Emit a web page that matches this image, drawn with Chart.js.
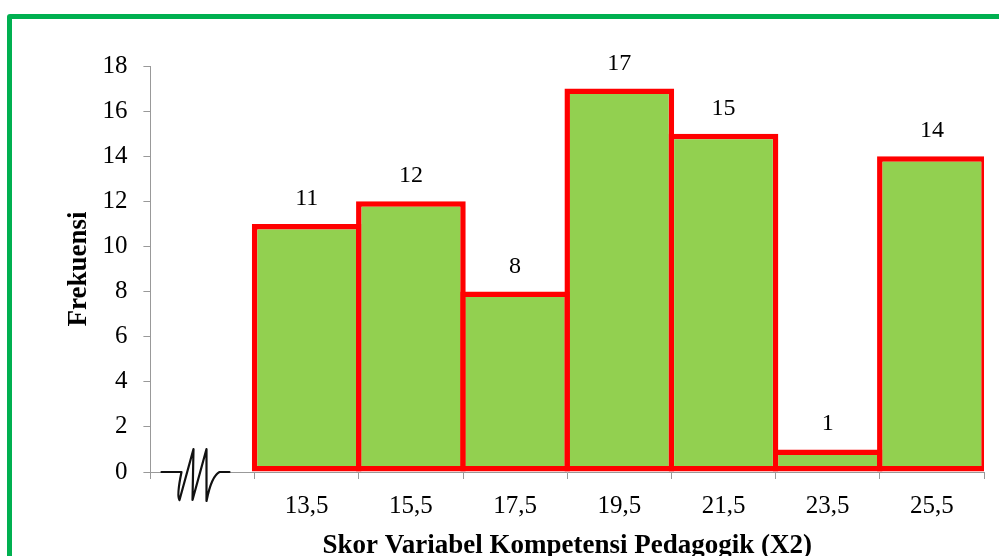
<!DOCTYPE html>
<html>
<head>
<meta charset="utf-8">
<script src="https://cdn.jsdelivr.net/npm/chart.js@4/dist/chart.umd.min.js"></script>
<style>
  html, body { margin: 0; padding: 0; background: #fff; overflow: hidden; }
  #wrap { position: relative; width: 999px; height: 556px; overflow: hidden; }
  #frame { position: absolute; left: 7px; top: 14px; width: 1100px; height: 700px;
           border: 5px solid #00B050; border-radius: 3px; box-sizing: border-box; }
  canvas { position: absolute; left: 0; top: 0; }
</style>
</head>
<body>
<div id="wrap">
  <div id="frame"></div>
  <canvas id="c" width="999" height="556"></canvas>
</div>
<script>
// Class midpoints (first slot is left empty for the axis break)
const categories = ['', '13,5', '15,5', '17,5', '19,5', '21,5', '23,5', '25,5'];
// Frequency per class
const frequencies = [null, 11, 12, 8, 17, 15, 1, 14];
// Y axis range
const yMin = 0;
const yMax = 18;
const yStep = 2;

const SERIF = "'Liberation Serif', 'Times New Roman', serif";
Chart.defaults.font.family = SERIF;
Chart.defaults.color = '#000';

const BORDER = 5.5;

// Value labels above each bar
const valueLabels = {
  id: 'valueLabels',
  afterDatasetsDraw(chart) {
    const ctx = chart.ctx;
    const meta = chart.getDatasetMeta(0);
    ctx.save();
    ctx.font = '24px ' + SERIF;
    ctx.fillStyle = '#000';
    ctx.textAlign = 'center';
    ctx.textBaseline = 'alphabetic';
    meta.data.forEach((el, i) => {
      const v = frequencies[i];
      if (v === null || v === undefined) return;
      ctx.fillText(String(v), el.x, el.y - 19);
    });
    ctx.restore();
  }
};

// Zig-zag break mark on the x axis in the empty first slot
const axisBreak = {
  id: 'axisBreak',
  afterDraw(chart) {
    const ctx = chart.ctx;
    const xs = chart.scales.x;
    const y0 = chart.scales.y.getPixelForValue(0);
    const cx = xs.getPixelForValue(0) - 7;
    ctx.save();
    ctx.fillStyle = '#fff';
    ctx.fillRect(cx - 34, y0 - 2, 68, 4);
    ctx.strokeStyle = '#111';
    ctx.lineWidth = 2.2;
    ctx.lineJoin = 'round';
    ctx.lineCap = 'round';
    ctx.beginPath();
    ctx.moveTo(cx - 34, y0);
    ctx.lineTo(cx - 14, y0);
    ctx.quadraticCurveTo(cx - 19, y0 + 24, cx - 16, y0 + 28);
    ctx.lineTo(cx - 2, y0 - 23);
    ctx.lineTo(cx - 3, y0 + 28);
    ctx.lineTo(cx + 11, y0 - 23);
    ctx.lineTo(cx + 11, y0 + 29);
    ctx.quadraticCurveTo(cx + 16, y0 + 4, cx + 24, y0);
    ctx.lineTo(cx + 34, y0);
    ctx.stroke();
    ctx.restore();
  }
};

new Chart(document.getElementById('c'), {
  type: 'bar',
  data: {
    labels: categories,
    datasets: [{
      data: frequencies,
      backgroundColor: '#92D050',
      borderColor: '#FF0000',
      borderWidth: BORDER,
      borderSkipped: false,
      categoryPercentage: 1,
      barPercentage: 1.0526
    }]
  },
  options: {
    responsive: false,
    animation: false,
    devicePixelRatio: 1,
    layout: { padding: { left: 63, top: 66, right: 15, bottom: 0 } },
    plugins: {
      legend: { display: false },
      tooltip: { enabled: false }
    },
    scales: {
      x: {
        offset: true,
        grid: {
          offset: true,
          drawOnChartArea: false,
          drawTicks: true,
          tickLength: 7,
          color: '#999'
        },
        border: { color: '#999', width: 1 },
        ticks: { font: { size: 25 }, padding: 12, color: '#000' },
        title: {
          display: true,
          text: 'Skor Variabel Kompetensi Pedagogik (X2)',
          font: { size: 27, weight: 'bold', lineHeight: 1 },
          padding: { top: 0, bottom: -4 },
          color: '#000'
        }
      },
      y: {
        min: yMin,
        max: yMax,
        grid: {
          drawOnChartArea: false,
          drawTicks: true,
          tickLength: 7,
          color: '#999'
        },
        border: { color: '#999', width: 1 },
        ticks: { stepSize: yStep, font: { size: 25 }, padding: 16, color: '#000' },
        title: {
          display: true,
          text: 'Frekuensi',
          font: { size: 27, weight: 'bold' },
          padding: { top: 0, bottom: -9 },
          color: '#000'
        }
      }
    }
  },
  plugins: [valueLabels, axisBreak]
});
</script>
</body>
</html>
